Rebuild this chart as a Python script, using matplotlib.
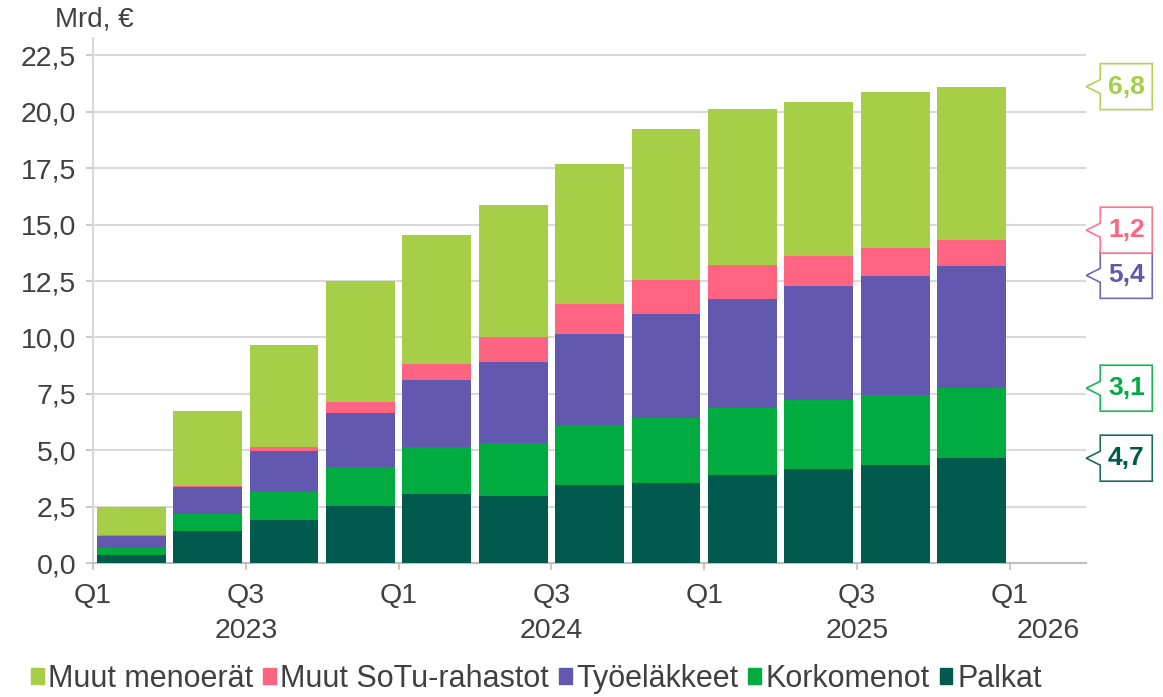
import numpy as np
import matplotlib
matplotlib.use("Agg")
import matplotlib.pyplot as plt
import matplotlib.transforms as mtransforms
from matplotlib.patches import Polygon, Patch

plt.rcParams['font.family'] = ['Liberation Sans', 'DejaVu Sans']

# quarters Q1 2023 ... Q4 2025 (values in Mrd. €)
palkat = [0.35, 1.42, 1.90, 2.55, 3.07, 2.98, 3.48, 3.54, 3.90, 4.15, 4.37, 4.65]
korkomenot = [0.34, 0.74, 1.24, 1.70, 2.07, 2.36, 2.62, 2.87, 2.98, 3.10, 3.07, 3.10]
tyelakkeet = [0.52, 1.21, 1.81, 2.41, 2.98, 3.55, 4.07, 4.63, 4.83, 5.03, 5.30, 5.42]
muut_sotu = [0.03, 0.05, 0.19, 0.47, 0.72, 1.11, 1.33, 1.49, 1.49, 1.33, 1.21, 1.15]
muut_menoerat = [1.24, 3.31, 4.53, 5.37, 5.71, 5.86, 6.20, 6.72, 6.91, 6.82, 6.91, 6.79]

series_names = ["Palkat", "Korkomenot", "Työeläkkeet", "Muut SoTu-rahastot", "Muut menoerät"]
series_colors = ["#005A4E", "#00AC40", "#6258B0", "#FF6480", "#A6CE46"]

q_ticks = [0, 2, 4, 6, 8, 10, 12]
q_labels = ["Q1", "Q3", "Q1", "Q3", "Q1", "Q3", "Q1"]
year_pos = [2, 6, 10, 12.5]
year_labels = ["2023", "2024", "2025", "2026"]

# callout labels for the last quarter (same order as series)
callout_texts = ["4,7", "3,1", "5,4", "1,2", "6,8"]

fig = plt.figure(figsize=(11.63, 6.97), dpi=100)
ax = fig.add_axes([0.080, 0.192, 0.854, 0.753])

data = [palkat, korkomenot, tyelakkeet, muut_sotu, muut_menoerat]
x = np.arange(len(palkat)) + 0.5
bottom = np.zeros(len(palkat))
tops = []
for vals, name, col in zip(data, series_names, series_colors):
    vals = np.array(vals)
    ax.bar(x, vals, width=0.9, bottom=bottom, color=col, label=name, zorder=3)
    bottom = bottom + vals
    tops.append(bottom[-1])

ax.set_xlim(0, 13)
ax.set_ylim(0, 23.25)
yt = np.arange(0, 22.6, 2.5)
ax.set_yticks(yt)
ax.set_yticklabels([f"{v:.1f}".replace(".", ",") for v in yt])
ax.set_xticks(q_ticks)
ax.set_xticklabels(q_labels)

ax.grid(axis='y', color='#D9D9D9', linewidth=1.5, zorder=0)
for s in ['top', 'right']:
    ax.spines[s].set_visible(False)
ax.spines['left'].set_color('#D9D9D9')
ax.spines['left'].set_linewidth(1.5)
ax.spines['bottom'].set_color('#BFBFBF')
ax.spines['bottom'].set_linewidth(1.5)
ax.tick_params(axis='y', length=5, width=1.2, color='#BFBFBF', pad=7,
               labelsize=20.5, labelcolor='#404040')
ax.tick_params(axis='x', length=5, width=1.2, color='#BFBFBF', pad=9,
               labelsize=20.5, labelcolor='#404040')

for xp, lab in zip(year_pos, year_labels):
    ax.text(xp, -0.104, lab, transform=ax.get_xaxis_transform(), ha='center',
            va='top', fontsize=20.5, color='#404040')

fig.text(0.047, 0.972, "Mrd, €", fontsize=20, color='#404040', va='center')

# callouts on the right, pointing to segment tops of the last bar
# (SoTu and TyEL boxes nudged apart so they do not overlap)
point_y = [tops[0], tops[1], 12.75, 14.75, tops[4]]
verts = [(0, 0), (14, 7), (14, 23), (66, 23), (66, -23), (14, -23), (14, -7)]
for yv, txt, col in zip(point_y, callout_texts, series_colors):
    tr = mtransforms.Affine2D() + mtransforms.ScaledTranslation(13, yv, ax.transData)
    poly = Polygon(verts, closed=True, facecolor='white', edgecolor=col,
                   linewidth=1.2, transform=tr, clip_on=False, zorder=5, alpha=0.9)
    ax.add_patch(poly)
    ax.annotate(txt, xy=(13, yv), xytext=(40, 0), textcoords='offset pixels',
                ha='center', va='center', fontsize=19, fontweight='bold',
                color=col, annotation_clip=False, zorder=6)

handles = [Patch(color=c, label=n) for n, c in zip(series_names, series_colors)][::-1]
fig.legend(handles=handles, loc='center', bbox_to_anchor=(0.461, 0.026), ncol=5,
           frameon=False, fontsize=22, handlelength=0.42, handleheight=0.42,
           handletextpad=0.15, columnspacing=0.32, labelcolor='#404040',
           borderpad=0, borderaxespad=0)

plt.savefig('out.png', dpi=100)
plt.close()
